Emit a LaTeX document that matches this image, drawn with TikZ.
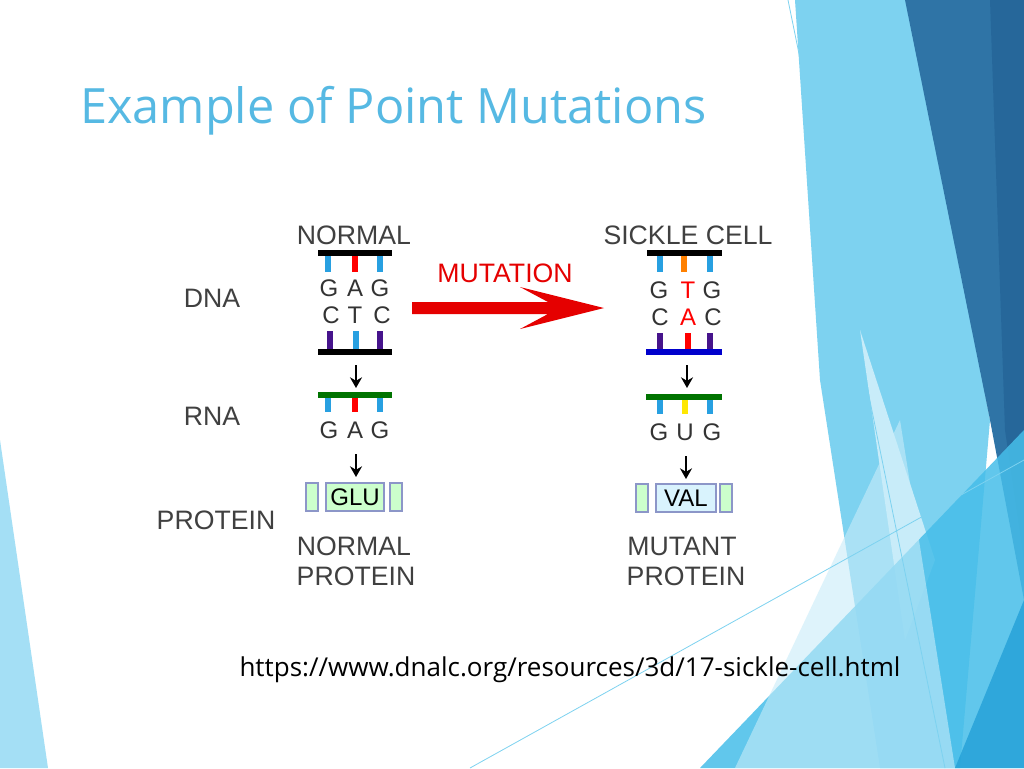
\documentclass[tikz,border=0pt]{standalone}
\usepackage{fontspec}
\usetikzlibrary{arrows.meta}
\setmainfont{Liberation Sans}
\newfontfamily\titlefont{Open Sans}
\definecolor{bglight}{RGB}{125,210,240}
\definecolor{bgpale}{RGB}{200,236,249}
\definecolor{bgdark}{RGB}{47,116,166}
\definecolor{bgdarker}{RGB}{38,103,154}
\definecolor{bgmid}{RGB}{70,190,233}
\definecolor{bgmid2}{RGB}{35,160,215}
\definecolor{titleblue}{RGB}{86,185,227}
\definecolor{tickblue}{RGB}{40,160,225}
\definecolor{tickviolet}{RGB}{70,20,140}
\definecolor{boxborder}{RGB}{140,150,200}
\begin{document}
\begin{tikzpicture}[x=0.75pt,y=-0.75pt,
  lbl/.style={font=\fontsize{20}{21}\selectfont, text=black!75, inner sep=0},
  base/.style={font=\fontsize{18}{19}\selectfont, text=black!80, inner sep=0},
  tick/.style={line width=3.8pt},
  bar/.style={line width=4.5pt},
  darr/.style={-{Stealth[length=8pt,width=9pt]}, line width=2.2pt},
  aabox/.style={draw=boxborder, line width=1.5pt, minimum height=28*0.75pt, inner sep=0}]
\useasboundingbox (0,0) rectangle (1024,768);
\fill[white] (0,0) rectangle (1024,768);
% background
\fill[bglight!70!white] (0,440) -- (48,768) -- (0,768) -- cycle;
\fill[bglight] (795,0) -- (910,0) -- (990,420) -- (960,768) -- (880,768) -- (820,380) -- cycle;
\fill[bgpale] (860,330) -- (935,560) -- (905,640) -- cycle;
\fill[bgdark] (905,0) -- (1024,0) -- (1024,600) -- (990,420) -- cycle;
\fill[bgdarker] (990,0) -- (1024,0) -- (1024,560) -- (1005,430) -- cycle;
\fill[bgmid, opacity=0.85] (700,768) -- (1024,430) -- (1024,768) -- cycle;
\fill[bgpale, opacity=0.6] (735,768) -- (900,420) -- (955,768) -- cycle;
\fill[bgmid2, opacity=0.8] (955,768) -- (1024,600) -- (1024,768) -- cycle;
\draw[bglight, line width=0.6pt] (788,0) -- (945,768);
\draw[bglight, line width=0.6pt] (470,768) -- (1024,460);
% title
\node[anchor=base west, inner sep=0, font=\titlefont\fontsize{36.5}{42}\selectfont, text=titleblue] (title) at (80,123) {Example of Point Mutations};
% left labels
\node[lbl] (dna) at (212,298) {DNA};
\node[lbl] (rna) at (212,416) {RNA};
\node[lbl] (prot) at (216,520) {PROTEIN};
% left column
\node[lbl] (normal) at (354,235) {NORMAL};
\draw[tick, tickblue] (328,253) -- (328,272);
\draw[tick, red] (355,253) -- (355,272);
\draw[tick, tickblue] (380,253) -- (380,272);
\draw[bar, black] (318,253) -- (392,253);
\node[base] (g1) at (329,288) {G};\node[base] (a1) at (355,288) {A};\node[base] (g2) at (380,288) {G};
\node[base] (c1) at (331,315) {C};\node[base] (t1) at (355,315) {T};\node[base] (c2) at (382,315) {C};
\draw[tick, tickviolet] (330,331) -- (330,352);
\draw[tick, tickblue] (356,331) -- (356,352);
\draw[tick, tickviolet] (380,331) -- (380,352);
\draw[bar, black] (318,352) -- (392,352);
\coordinate (la1) at (356,365); \coordinate (la2) at (356,388);
\draw[darr] (la1) -- (la2);
\draw[tick, tickblue] (328,395) -- (328,412);
\draw[tick, red] (355,395) -- (355,412);
\draw[tick, tickblue] (380,395) -- (380,412);
\draw[bar, green!45!black] (318,395) -- (392,395);
\node[base] (g3) at (329,430) {G};\node[base] (a3) at (355,430) {A};\node[base] (g4) at (380,430) {G};
\coordinate (lb1) at (356,454); \coordinate (lb2) at (356,477);
\draw[darr] (lb1) -- (lb2);
\node[aabox, fill=green!20, minimum width=12*0.75pt] (lbox1) at (312,497) {};
\node[aabox, fill=green!20, minimum width=58*0.75pt, font=\fontsize{18}{19}\selectfont] (glu) at (355,497) {GLU};
\node[aabox, fill=green!20, minimum width=12*0.75pt] (lbox2) at (396,497) {};
\node[lbl] (np1) at (354,546) {NORMAL};
\node[lbl] (np2) at (356,576) {PROTEIN};
% mutation arrow
\fill[red!90!black] (412,302) -- (548,302) -- (520,287) -- (604,308) -- (520,329) -- (548,314) -- (412,314) -- cycle;
\node[lbl, text=red!90!black] (mut) at (505,273) {MUTATION};
% right column
\node[lbl] (sickle) at (688,235) {SICKLE CELL};
\draw[tick, tickblue] (660,253) -- (660,272);
\draw[tick, orange] (684,253) -- (684,272);
\draw[tick, tickblue] (710,253) -- (710,272);
\draw[bar, black] (647,253) -- (722,253);
\node[base] (g5) at (659,290) {G};\node[base, text=red] (t5) at (688,290) {T};\node[base] (g6) at (712,290) {G};
\node[base] (c5) at (660,317) {C};\node[base, text=red] (a5) at (688,317) {A};\node[base] (c6) at (713,317) {C};
\draw[tick, tickviolet] (660,333) -- (660,352);
\draw[tick, red] (688,333) -- (688,352);
\draw[tick, tickviolet] (710,333) -- (710,352);
\draw[bar, blue!80!black] (646,352) -- (722,352);
\coordinate (ra1) at (687,365); \coordinate (ra2) at (687,388);
\draw[darr] (ra1) -- (ra2);
\draw[tick, tickblue] (660,397) -- (660,414);
\draw[tick, yellow!90!orange] (685,397) -- (685,414);
\draw[tick, tickblue] (710,397) -- (710,414);
\draw[bar, green!45!black] (646,397) -- (722,397);
\node[base] (g7) at (659,432) {G};\node[base] (u7) at (685,432) {U};\node[base] (g8) at (712,432) {G};
\coordinate (rb1) at (686,456); \coordinate (rb2) at (686,479);
\draw[darr] (rb1) -- (rb2);
\node[aabox, fill=green!20, minimum width=12*0.75pt] (rbox1) at (642,498) {};
\node[aabox, fill=cyan!15, minimum width=60*0.75pt, font=\fontsize{18}{19}\selectfont] (val) at (686,498) {VAL};
\node[aabox, fill=green!20, minimum width=12*0.75pt] (rbox2) at (726,498) {};
\node[lbl] (mp1) at (682,546) {MUTANT};
\node[lbl] (mp2) at (686,576) {PROTEIN};
% url
\node[inner sep=0, font=\titlefont\fontsize{19.5}{22}\selectfont] (url) at (570,670) {https://www.dnalc.org/resources/3d/17-sickle-cell.html};
\end{tikzpicture}
\end{document}
